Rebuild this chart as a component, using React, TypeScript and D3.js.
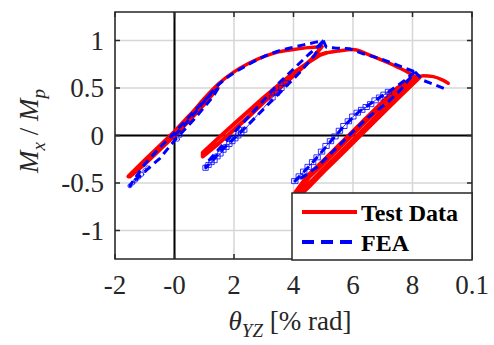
import React from "react";
import * as d3 from "d3";

type P = [number, number];

const xTicks = [-2, 0, 2, 4, 6, 8, 10];
const xTickLabels = ["-2", "-0", "2", "4", "6", "8", "0.1"];
const yTicks = [-1, -0.5, 0, 0.5, 1];
const yTickLabels = ["-1", "-0.5", "0", "0.5", "1"];

// Test data (red)
const testLoop1: P[] = [
  [-1.55, -0.43], [-1.0, -0.26], [-0.5, -0.11], [0, 0.04], [0.5, 0.21], [1.0, 0.37], [1.45, 0.5],
  [1.0, 0.33], [0.5, 0.16], [0, 0.0], [-0.5, -0.15], [-1.0, -0.3], [-1.5, -0.43],
  [-1.0, -0.28], [-0.5, -0.13], [0, 0.02], [0.5, 0.18], [1.0, 0.35], [1.45, 0.5],
];
const testEnvelope: P[] = [
  [0, 0], [0.5, 0.2], [1.0, 0.39], [1.5, 0.55], [2.0, 0.67], [2.5, 0.76], [3.0, 0.83],
  [3.5, 0.88], [4.0, 0.905], [4.5, 0.925], [4.95, 0.935],
];
const testLoop2: P[] = [
  [4.95, 0.935], [4.6, 0.8], [4.0, 0.63], [3.5, 0.49], [3.0, 0.35], [2.5, 0.2], [2.0, 0.06],
  [1.5, -0.08], [0.95, -0.22], [0.95, -0.18], [1.5, -0.02], [2.0, 0.12], [2.5, 0.26],
  [3.0, 0.4], [3.5, 0.53], [4.0, 0.66], [4.5, 0.77], [4.9, 0.85], [5.1, 0.87],
];
const testSoftening: P[] = [
  [5.1, 0.87], [5.5, 0.89], [6.0, 0.905], [6.5, 0.855], [7.0, 0.79], [7.5, 0.72],
  [7.9, 0.655], [8.15, 0.6],
];
const testLoop3: P[] = [
  [8.15, 0.6], [7.6, 0.434], [7.0, 0.25], [6.5, 0.093], [6.0, -0.062], [5.5, -0.217],
  [5.0, -0.37], [4.5, -0.53], [4.1, -0.65], [4.1, -0.6], [4.5, -0.43],
  [5.0, -0.28], [5.5, -0.124], [6.0, 0.03], [6.5, 0.186], [7.0, 0.34], [7.5, 0.49],
  [7.9, 0.575], [8.2, 0.615],
];
const testTail: P[] = [[8.2, 0.615], [8.36, 0.63], [8.7, 0.62], [9.0, 0.585], [9.2, 0.55]];

// FEA (blue)
const feaLoop1: P[] = [
  [1.47, 0.5], [1.3, 0.41], [0.63, 0.16], [0.02, -0.045], [-0.49, -0.24], [-1.0, -0.38],
  [-1.44, -0.5], [-1.5, -0.53], [-1.0, -0.3], [-0.5, -0.13], [0, 0.03], [0.5, 0.2],
  [1.0, 0.37], [1.47, 0.5],
];
const feaLoop1Marks: P[] = [
  [-1.5, -0.53], [-1.4, -0.5], [-1.3, -0.47], [-1.2, -0.44], [-1.1, -0.41], [-1.0, -0.37],
  [-0.9, -0.34], [0.0, -0.02], [0.1, -0.04], [0.2, 0.0],
];
const feaEnvelope: P[] = [
  [0, 0], [0.5, 0.17], [1.0, 0.36], [1.5, 0.54], [2.0, 0.66], [2.5, 0.75], [3.0, 0.83],
  [3.5, 0.89], [4.0, 0.93], [4.5, 0.965], [5.0, 1.0],
];
const feaLoop2: P[] = [
  [5.0, 1.0], [4.7, 0.84], [4.2, 0.66], [3.6, 0.47], [3.0, 0.28], [2.5, 0.12], [2.0, -0.03],
  [1.5, -0.18], [1.05, -0.34], [1.05, -0.3], [1.5, -0.14], [2.0, 0.03], [2.5, 0.2],
  [3.0, 0.37], [3.5, 0.55], [4.0, 0.7], [4.5, 0.85], [4.8, 0.93], [5.0, 1.0],
];
const feaLoop2Marks: P[] = [
  [1.05, -0.34], [1.15, -0.31], [1.25, -0.28], [1.35, -0.26], [1.45, -0.22], [1.55, -0.19],
  [1.65, -0.15], [1.75, -0.12], [1.85, -0.09], [1.95, -0.06], [2.05, -0.03], [2.15, 0.0],
  [2.25, 0.03], [2.35, 0.06], [3.3, 0.4], [3.45, 0.45], [3.6, 0.5], [3.75, 0.55],
];
const feaSoftening: P[] = [
  [5.0, 1.0], [5.1, 0.93], [5.4, 0.92], [5.9, 0.912], [6.35, 0.86], [6.9, 0.81],
  [7.58, 0.73], [8.08, 0.67],
];
const feaLoop3: P[] = [
  [8.08, 0.67], [7.7, 0.57], [7.2, 0.46], [6.7, 0.36], [6.2, 0.25], [5.7, 0.1], [5.2, -0.08],
  [4.6, -0.3], [4.05, -0.48], [4.4, -0.42], [4.8, -0.33], [5.45, -0.13], [6.0, 0.04],
  [6.5, 0.19], [7.13, 0.34], [7.6, 0.48], [8.08, 0.67],
];
const feaLoop3Marks: P[] = [
  [4.05, -0.48], [4.2, -0.43], [4.35, -0.38], [4.5, -0.33], [4.65, -0.28], [4.8, -0.23],
  [4.95, -0.17], [5.1, -0.11], [5.25, -0.06], [5.4, -0.01], [5.55, 0.05], [5.7, 0.1],
  [5.85, 0.15], [6.0, 0.2], [6.15, 0.24], [6.3, 0.27], [6.45, 0.3], [6.6, 0.33],
  [6.75, 0.37], [6.9, 0.4], [7.05, 0.43], [7.2, 0.46],
];
const feaTail: P[] = [[8.08, 0.67], [8.36, 0.58], [8.7, 0.54], [9.15, 0.485]];

const W = 494;
const H = 345;
const L = 115, R = 472, T = 12, B = 259;

export default function App() {
  const x = d3.scaleLinear().domain([-2, 10]).range([L, R]);
  const y = d3.scaleLinear().domain([-1.3, 1.3]).range([B, T]);
  const line = d3.line<P>().x((d) => x(d[0])).y((d) => y(d[1])).curve(d3.curveMonotoneX);
  const poly = d3.line<P>().x((d) => x(d[0])).y((d) => y(d[1]));
  const red = "#ff0000";
  const blue = "#0000ff";
  const dash = "8,5";
  const serif = "'Liberation Serif', 'Times New Roman', serif";

  return (
    <svg width={W} height={H} style={{ display: "block", position: "absolute", left: 0, top: 0 }} fontFamily={serif}>
      <rect x={0} y={0} width={W} height={H} fill="#fff" />
      <defs>
        <clipPath id="pc">
          <rect x={L} y={T} width={R - L} height={B - T} />
        </clipPath>
      </defs>
      {xTicks.map((t) => (
        <line key={"gx" + t} x1={x(t)} x2={x(t)} y1={T} y2={B} stroke="#d6d6d6" strokeWidth={1.5} />
      ))}
      {yTicks.map((t) => (
        <line key={"gy" + t} x1={L} x2={R} y1={y(t)} y2={y(t)} stroke="#d6d6d6" strokeWidth={1.5} />
      ))}
      <line x1={x(0)} x2={x(0)} y1={T} y2={B} stroke="#000" strokeWidth={2} />
      <line x1={L} x2={R} y1={y(0)} y2={y(0)} stroke="#000" strokeWidth={2} />
      <g clipPath="url(#pc)" fill="none" strokeLinejoin="round" strokeLinecap="round">
        <path d={poly(testLoop1)!} stroke={red} strokeWidth={4} />
        <path d={line(testEnvelope)!} stroke={red} strokeWidth={3.5} />
        <path d={poly(testLoop2)!} stroke={red} strokeWidth={4} />
        <path d={line(testSoftening)!} stroke={red} strokeWidth={3.5} />
        <path d={poly(testLoop3)!} stroke={red} strokeWidth={6} />
        <path d={line(testTail)!} stroke={red} strokeWidth={3.5} />
        <path d={poly(feaLoop1)!} stroke={blue} strokeWidth={3} strokeDasharray={dash} strokeLinecap="butt" />
        {feaLoop1Marks.map((d, i) => (
          <circle key={"m1" + i} cx={x(d[0])} cy={y(d[1])} r={2} stroke={blue} strokeWidth={0.8} />
        ))}
        <path d={line(feaEnvelope)!} stroke={blue} strokeWidth={3} strokeDasharray={dash} strokeLinecap="butt" />
        <path d={poly(feaLoop2)!} stroke={blue} strokeWidth={3} strokeDasharray={dash} strokeLinecap="butt" />
        <path d={poly(feaLoop2Marks)!} stroke={blue} strokeWidth={0.8} />
        {feaLoop2Marks.map((d, i) => (
          <rect key={"m2" + i} x={x(d[0]) - 2.5} y={y(d[1]) - 2.5} width={5} height={5} stroke={blue} strokeWidth={0.8} />
        ))}
        <path d={poly(feaSoftening)!} stroke={blue} strokeWidth={3} strokeDasharray={dash} strokeLinecap="butt" />
        <path d={poly(feaLoop3)!} stroke={blue} strokeWidth={3} strokeDasharray={dash} strokeLinecap="butt" />
        <path d={poly(feaLoop3Marks)!} stroke={blue} strokeWidth={0.8} />
        {feaLoop3Marks.map((d, i) => (
          <rect key={"m3" + i} x={x(d[0]) - 3} y={y(d[1]) - 2.5} width={6} height={5} stroke={blue} strokeWidth={0.8} />
        ))}
        <path d={poly(feaTail)!} stroke={blue} strokeWidth={3} strokeDasharray={dash} strokeLinecap="butt" />
      </g>
      <rect x={L} y={T} width={R - L} height={B - T} fill="none" stroke="#262626" strokeWidth={1.5} />
      {xTicks.map((t) => (
        <g key={"tx" + t}>
          <line x1={x(t)} x2={x(t)} y1={B} y2={B - 5} stroke="#262626" strokeWidth={1.5} />
          <line x1={x(t)} x2={x(t)} y1={T} y2={T + 5} stroke="#262626" strokeWidth={1.5} />
        </g>
      ))}
      {yTicks.map((t) => (
        <g key={"ty" + t}>
          <line x1={L} x2={L + 5} y1={y(t)} y2={y(t)} stroke="#262626" strokeWidth={1.5} />
          <line x1={R} x2={R - 5} y1={y(t)} y2={y(t)} stroke="#262626" strokeWidth={1.5} />
        </g>
      ))}
      {xTicks.map((t, i) => (
        <text key={"lx" + t} x={x(t)} y={294} textAnchor="middle" fontSize={27} fill="#262626">
          {xTickLabels[i]}
        </text>
      ))}
      {yTicks.map((t, i) => (
        <text key={"ly" + t} x={104} y={y(t) + 9} textAnchor="end" fontSize={27} fill="#262626">
          {yTickLabels[i]}
        </text>
      ))}
      <text x={290} y={330} textAnchor="middle" fontSize={27} fill="#262626">
        <tspan fontStyle="italic">θ</tspan>
        <tspan fontStyle="italic" fontSize={19} dy={7}>YZ</tspan>
        <tspan dy={-7}> [% rad]</tspan>
      </text>
      <text transform="translate(38,131) rotate(-90)" textAnchor="middle" fontSize={27} fill="#262626">
        <tspan fontStyle="italic">M</tspan>
        <tspan fontStyle="italic" fontSize={19} dy={7}>x</tspan>
        <tspan dy={-7}> / </tspan>
        <tspan fontStyle="italic">M</tspan>
        <tspan fontStyle="italic" fontSize={19} dy={7}>p</tspan>
      </text>
      <rect x={292} y={193} width={180} height={67} fill="#fff" stroke="#262626" strokeWidth={1.5} />
      <line x1={302} x2={357} y1={212} y2={212} stroke={red} strokeWidth={4} />
      <line x1={302} x2={357} y1={242} y2={242} stroke={blue} strokeWidth={4} strokeDasharray="12,7" />
      <text x={361} y={221} fontSize={24} fontWeight="bold" fill="#000">Test Data</text>
      <text x={361} y={251} fontSize={24} fontWeight="bold" fill="#000">FEA</text>
    </svg>
  );
}
